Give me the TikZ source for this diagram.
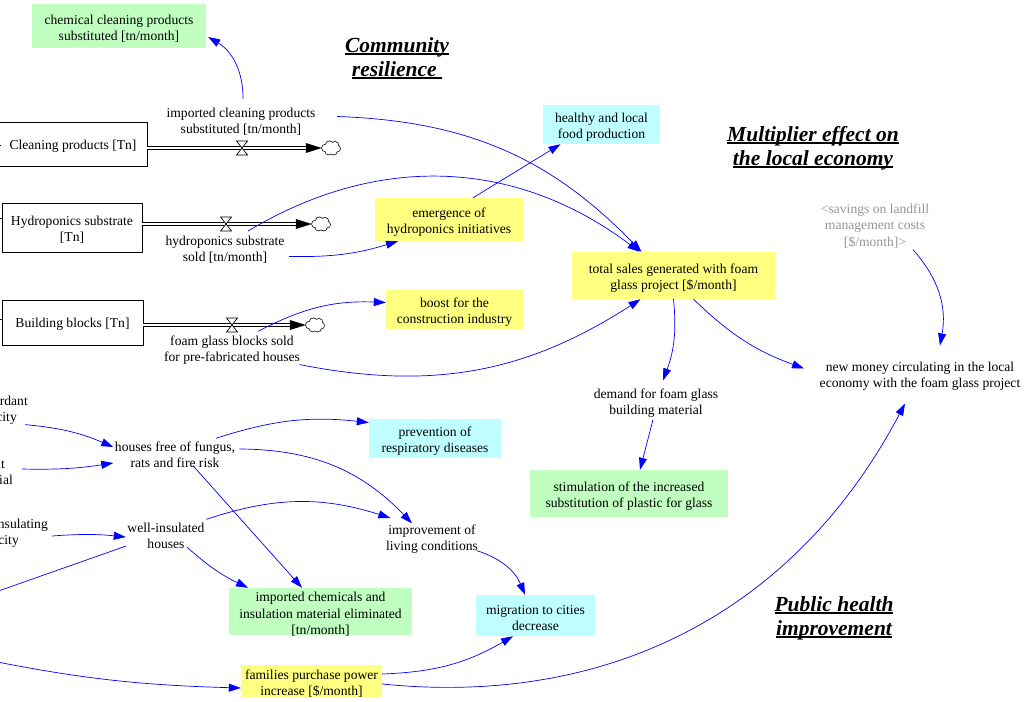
\documentclass[tikz,border=0pt]{standalone}
\usepackage{fontspec}
\setmainfont{Liberation Serif}
\usetikzlibrary{arrows.meta}
\definecolor{auxyellow}{RGB}{255,255,128}
\definecolor{auxgreen}{RGB}{192,255,192}
\definecolor{auxcyan}{RGB}{192,255,255}
\definecolor{shadowgray}{RGB}{150,150,150}
\definecolor{linkblue}{RGB}{0,0,255}
\newcommand\varfont{\fontsize{13.6}{16.3}\selectfont}
\newcommand\headfont{\fontsize{21.5}{24}\selectfont\bfseries\itshape}
% underlined heading line with a heavier rule
\newcommand\headline[1]{\setbox0=\hbox{#1}\rlap{\rule[-2.6pt]{\wd0}{1.5pt}}\box0}
% fixed blank space kept at a line end
\newcommand\tailgap[1]{\hbox to #1{}}
% coloured auxiliary box: fill colour, width, height, name, centre, text
\newcommand\auxnode[6]{%
  \node[box,fill=#1,minimum width=#2,minimum height=#3] (#4) at (#5) {};
  \node[boxtext] (#4T) at ([yshift=-2.7pt]#4.center) {#6};}
% stock box: width, height, name, centre, text
\newcommand\stocknode[5]{%
  \node[stock,minimum width=#1,minimum height=#2] (#3) at (#4) {};
  \node[boxtext] (#3T) at ([yshift=-2pt]#3.center) {#5};}

\begin{document}
\begin{tikzpicture}[x=1pt,y=1pt,
  var/.style={align=center,inner sep=1.5pt,font=\varfont,yshift=-1.5pt},
  edgevar/.style={var,align=right,anchor=east},
  boxtext/.style={align=center,inner sep=0pt,font=\varfont},
  box/.style={inner sep=0pt},
  stock/.style={draw,line width=0.8pt,inner sep=0pt},
  head/.style={align=center,inner sep=0pt,font=\headfont,yshift=-1pt},
  pipe/.style={draw,line width=0.75pt,double=white,double distance=2.4pt},
  sinkspot/.style={inner sep=0pt,minimum width=18pt,minimum height=14pt},
  link/.style={draw=linkblue,line width=0.7pt,-{Triangle[length=12pt,width=8pt]}},
  valve/.pic={\draw[line width=0.7pt,fill=white,line join=miter] (-5.5,7) -- (5.5,7) -- (-5.5,-7) -- (5.5,-7) -- cycle;},
  % puffy cloud drawn as the outline of a union of discs
  cloudpic/.pic={
    \foreach \p/\r in {{-5.6,0}/3.4,{-1.6,3.1}/3.6,{3.9,2.7}/3.5,{6.2,-0.6}/2.9,{2.6,-3.3}/3.3,{-2.4,-3.2}/3.3}
      \draw[line width=1.4pt] (\p) circle (\r);
    \foreach \p/\r in {{-5.6,0}/3.4,{-1.6,3.1}/3.6,{3.9,2.7}/3.5,{6.2,-0.6}/2.9,{2.6,-3.3}/3.3,{-2.4,-3.2}/3.3}
      \fill[white] (\p) circle (\r);
    \fill[white] (0.3,0) ellipse (6 and 3);}
]
\useasboundingbox (0,0) rectangle (1030,-701);
\clip (0,0) rectangle (1030,-701);
\fill[white] (0,0) rectangle (1030,-701);

% ---------- stocks and flows ----------
\stocknode{148pt}{44pt}{stockC}{73,-144}{Cleaning products [Tn]}
\stocknode{140pt}{49pt}{stockH}{72,-227.5}{Hydroponics substrate\\{}[Tn]}
\stocknode{141pt}{45pt}{stockB}{72.5,-322.5}{Building blocks [Tn]}

\coordinate (vC) at (242,-148);
\coordinate (vH) at (226,-224);
\coordinate (vB) at (232,-325);
\node[sinkspot] (cloudC) at (331,-148) {};
\node[sinkspot] (cloudH) at (321,-224) {};
\node[sinkspot] (cloudB) at (315,-325) {};

\draw[pipe] (stockC.east |- vC) -- ([xshift=-15pt]cloudC.west);
\draw[pipe] (stockH.east |- vH) -- ([xshift=-15pt]cloudH.west);
\draw[pipe] (stockB.east |- vB) -- ([xshift=-15pt]cloudB.west);
\foreach \c in {cloudC,cloudH,cloudB}{
  \fill ([shift={(-16pt,5pt)}]\c.west) -- (\c.west) -- ([shift={(-16pt,-5pt)}]\c.west) -- cycle;
  \pic at (\c) {cloudpic};}
\pic at (vC) {valve};
\pic at (vH) {valve};
\pic at (vB) {valve};

% inflow stubs on the left
\draw[line width=0.8pt] (stockC.west) ++(0,-1) -- ++(2,0);
\draw[line width=0.8pt] (stockH.west) ++(0,9.5) -- ++(-6,0);
\draw[line width=0.8pt] (stockB.west) ++(0,3.5) -- ++(-6,0);

\node[var] (flowC) at (241,-120) {imported cleaning products\\substituted [tn/month]};
\node[var] (flowH) at (225,-248) {hydroponics substrate\\sold [tn/month]};
\node[var] (flowB) at (232,-349) {foam glass blocks sold\\for pre-fabricated houses};

% ---------- variables ----------
\auxnode{auxgreen}{174pt}{44pt}{chemS}{119,-26}{chemical cleaning products\\substituted [tn/month]}
\auxnode{auxyellow}{148pt}{43pt}{emerg}{449,-219.5}{emergence of\\hydroponics initiatives}
\auxnode{auxcyan}{117pt}{39pt}{healthy}{601.5,-124.5}{healthy and local\\food production}
\auxnode{auxyellow}{137pt}{39pt}{boost}{454.5,-309.5}{boost for the\\construction industry}
\auxnode{auxyellow}{203pt}{47pt}{total}{673.5,-275.5}{total sales generated with foam\\glass project [\$/month]}
\node[var,text=shadowgray] (savings) at (875,-224.5) {<savings on landfill\\management costs\\{}[\$/month]>};
\node[var] (newmoney) at (920,-375) {new money circulating in the local\\economy with the foam glass project};
\node[var] (demand) at (656,-402) {demand for foam glass\\building material};
\auxnode{auxgreen}{198pt}{47pt}{stim}{629,-493.5}{stimulation of the increased\\substitution of plastic for glass}
\node[edgevar] (fireret) at (29.5,-408.5) {fire retardant\\capacity\tailgap{11pt}};
\node[edgevar] (rotres) at (14.5,-472) {rot resistant\tailgap{8pt}\\building material};
\node[edgevar] (thermins) at (49.5,-531.5) {thermal insulating\\capacity\tailgap{29pt}};
\node[var] (housesfree) at (175,-453) {houses free of fungus,\\rats and fire risk};
\node[var] (wellins) at (166,-534) {well-insulated\\houses};
\auxnode{auxcyan}{132pt}{39pt}{prevent}{435,-438.5}{prevention of\\respiratory diseases}
\node[var] (improve) at (432,-538) {improvement of\\living conditions};
\auxnode{auxgreen}{183pt}{47pt}{chemE}{320.5,-611.5}{imported chemicals and\\insulation material eliminated\\{}[tn/month]}
\auxnode{auxcyan}{119pt}{41pt}{migr}{535.5,-615.5}{migration to cities\\decrease}
\auxnode{auxyellow}{141pt}{32pt}{families}{311.5,-681}{families purchase power\\increase [\$/month]}
\coordinate (offA) at (-30,-601);
\coordinate (offB) at (-30,-656.5);

% ---------- headings ----------
\node[head] (headC) at (397,-57) {\headline{Community}\\\headline{resilience\ }};
\node[head] (headM) at (813,-147) {\headline{Multiplier effect on}\\\headline{the local economy}};
\node[head] (headP) at (834,-617) {\headline{Public health}\\\headline{improvement}};

% ---------- causal links ----------
\draw[link] ([shift={(2pt,7pt)}]flowC.north) to[bend right=30] ([shift={(2pt,-11pt)}]chemS.east);
\draw[link] ([shift={(20pt,5pt)}]flowC.east) to[bend left=22] ([xshift=-32pt]total.north);
\draw[link] ([shift={(23pt,3pt)}]flowH.north) to[bend left=34] ([xshift=-34pt]total.north);
\draw[link] ([shift={(3pt,-7pt)}]flowH.east) to[bend right=9] ([xshift=-51pt]emerg.south);
\draw[link] ([xshift=24pt]emerg.north) -- ([xshift=-41pt]healthy.south);
\draw[link] ([shift={(26pt,3pt)}]flowB.north) to[bend left=15] ([yshift=7pt]boost.west);
\draw[link] ([shift={(-2pt,2pt)}]flowB.south east) to[bend right=22] ([xshift=-33pt]total.south);
\draw[link] (total.south) to[bend left=13] ([shift={(7pt,7pt)}]demand.north);
\draw[link] ([xshift=20pt]total.south) to[bend right=12] ([shift={(-14pt,8pt)}]newmoney.west);
\draw[link] ([xshift=38pt]savings.south) to[bend left=26] ([shift={(20pt,15pt)}]newmoney.north);
\draw[link] ([xshift=-3pt]demand.south) -- ([xshift=11pt]stim.north);
\draw[link] ([yshift=-3pt]families.east) to[bend right=34] ([shift={(-15pt,-11pt)}]newmoney.south);
\draw[link] ([yshift=7pt]families.east) to[bend right=14] ([xshift=-22.5pt]migr.south);
\draw[link] ([shift={(-3pt,5pt)}]improve.south east) to[bend left=25] ([xshift=-10.5pt]migr.north);
\draw[link] ([shift={(41pt,1.5pt)}]housesfree.north) to[bend left=12] ([yshift=16pt]prevent.west);
\draw[link] ([shift={(2.5pt,5.5pt)}]housesfree.east) to[bend left=23] ([xshift=-20pt]improve.north);
\draw[link] ([shift={(18pt,3.5pt)}]housesfree.south) -- ([xshift=-18.5pt]chemE.north);
\draw[link] ([yshift=1.5pt]wellins.north east) to[bend left=18] ([shift={(6pt,21.5pt)}]improve.west);
\draw[link] ([shift={(21pt,3pt)}]wellins.south) to[bend right=8] ([xshift=-72.5pt]chemE.north);
\draw[link] ([shift={(-4.5pt,1.5pt)}]fireret.south east) to[bend left=9] ([yshift=7.5pt]housesfree.west);
\draw[link] ([shift={(7.5pt,4.5pt)}]rotres.east) to[bend right=5] ([yshift=-8.5pt]housesfree.west);
\draw[link] ([shift={(2.5pt,-3pt)}]thermins.east) to[bend left=5] ([yshift=-1.5pt]wellins.west);
\draw[link] ([yshift=4pt]wellins.south west) -- (offA);
\draw[link] (offB) to[bend right=5] ([yshift=-7pt]families.west);
\end{tikzpicture}
\end{document}
